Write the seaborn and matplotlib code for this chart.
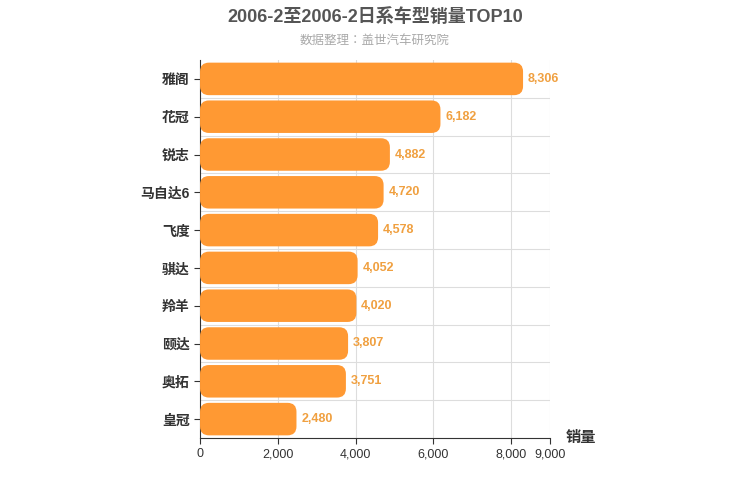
import matplotlib
matplotlib.use("Agg")
import matplotlib.pyplot as plt
import seaborn as sns
import pandas as pd
from matplotlib.patches import FancyBboxPatch
from matplotlib import font_manager

# pick whichever CJK family the font manager actually knows
names = {f.name for f in font_manager.fontManager.ttflist}
cjk = [n for n in ['Noto Sans CJK SC', 'Noto Sans CJK JP', 'Noto Sans CJK TC',
                   'Noto Sans CJK KR', 'Noto Sans SC'] if n in names]
if not cjk:
    cjk = sorted(n for n in names if 'CJK' in n)
plt.rcParams['font.family'] = ['Liberation Sans'] + cjk + ['DejaVu Sans']

models = ['雅阁', '花冠', '锐志', '马自达6', '飞度', '骐达', '羚羊', '颐达', '奥拓', '皇冠']
sales = [8306, 6182, 4882, 4720, 4578, 4052, 4020, 3807, 3751, 2480]
xticks = [0, 2000, 4000, 6000, 8000, 9000]

df = pd.DataFrame({'model': models, 'sales': sales})
bar_color = '#FF9933'

fig = plt.figure(figsize=(7.5, 5), dpi=100)
ax = fig.add_axes([0.2667, 0.124, 0.4667, 0.756])

sns.barplot(data=df, x='sales', y='model', color=bar_color, width=0.86, ax=ax, zorder=3)

# swap plain bars for rounded ones
for p in list(ax.patches):
    x0, y0, w, h = p.get_x(), p.get_y(), p.get_width(), p.get_height()
    p.remove()
    ax.add_patch(FancyBboxPatch((x0, y0), w, h,
                                boxstyle="round,pad=0,rounding_size=230",
                                mutation_aspect=0.00103,
                                facecolor=bar_color, edgecolor='none', zorder=3))

for i, v in enumerate(sales):
    ax.text(v + 120, i, f'{v:,}', va='center', ha='left', color='#F0A040',
            fontsize=9, fontweight='bold', zorder=4)

ax.set_xlim(0, 9000)
ax.set_ylim(len(models) - 0.5, -0.5)
ax.set_xticks(xticks)
ax.set_xticklabels([f'{t:,}' for t in xticks], fontsize=9, color='#333333')
ax.set_yticks(range(len(models)))
ax.set_yticklabels(models, fontsize=10, fontweight='bold', color='#333333')
ax.set_xlabel('')
ax.set_ylabel('')

for x in xticks[1:]:
    ax.axvline(x, color='#DDDDDD', lw=0.8, zorder=1)
for y in range(len(models) - 1):
    ax.axhline(y + 0.5, color='#DDDDDD', lw=0.8, zorder=1)

for s in ['top', 'right']:
    ax.spines[s].set_visible(False)
ax.spines['left'].set_color('#333333')
ax.spines['bottom'].set_color('#333333')
ax.tick_params(axis='both', length=4, color='#333333')

fig.text(0.5, 0.965, '2006-2至2006-2日系车型销量TOP10', ha='center', va='center',
         fontsize=13, fontweight='bold', color='#555555')
fig.text(0.5, 0.918, '数据整理：盖世汽车研究院', ha='center', va='center',
         fontsize=9, color='#AAAAAA')
fig.text(0.775, 0.124, '销量', ha='center', va='center', fontsize=11,
         fontweight='bold', color='#333333')

fig.savefig('out.png', dpi=100)
